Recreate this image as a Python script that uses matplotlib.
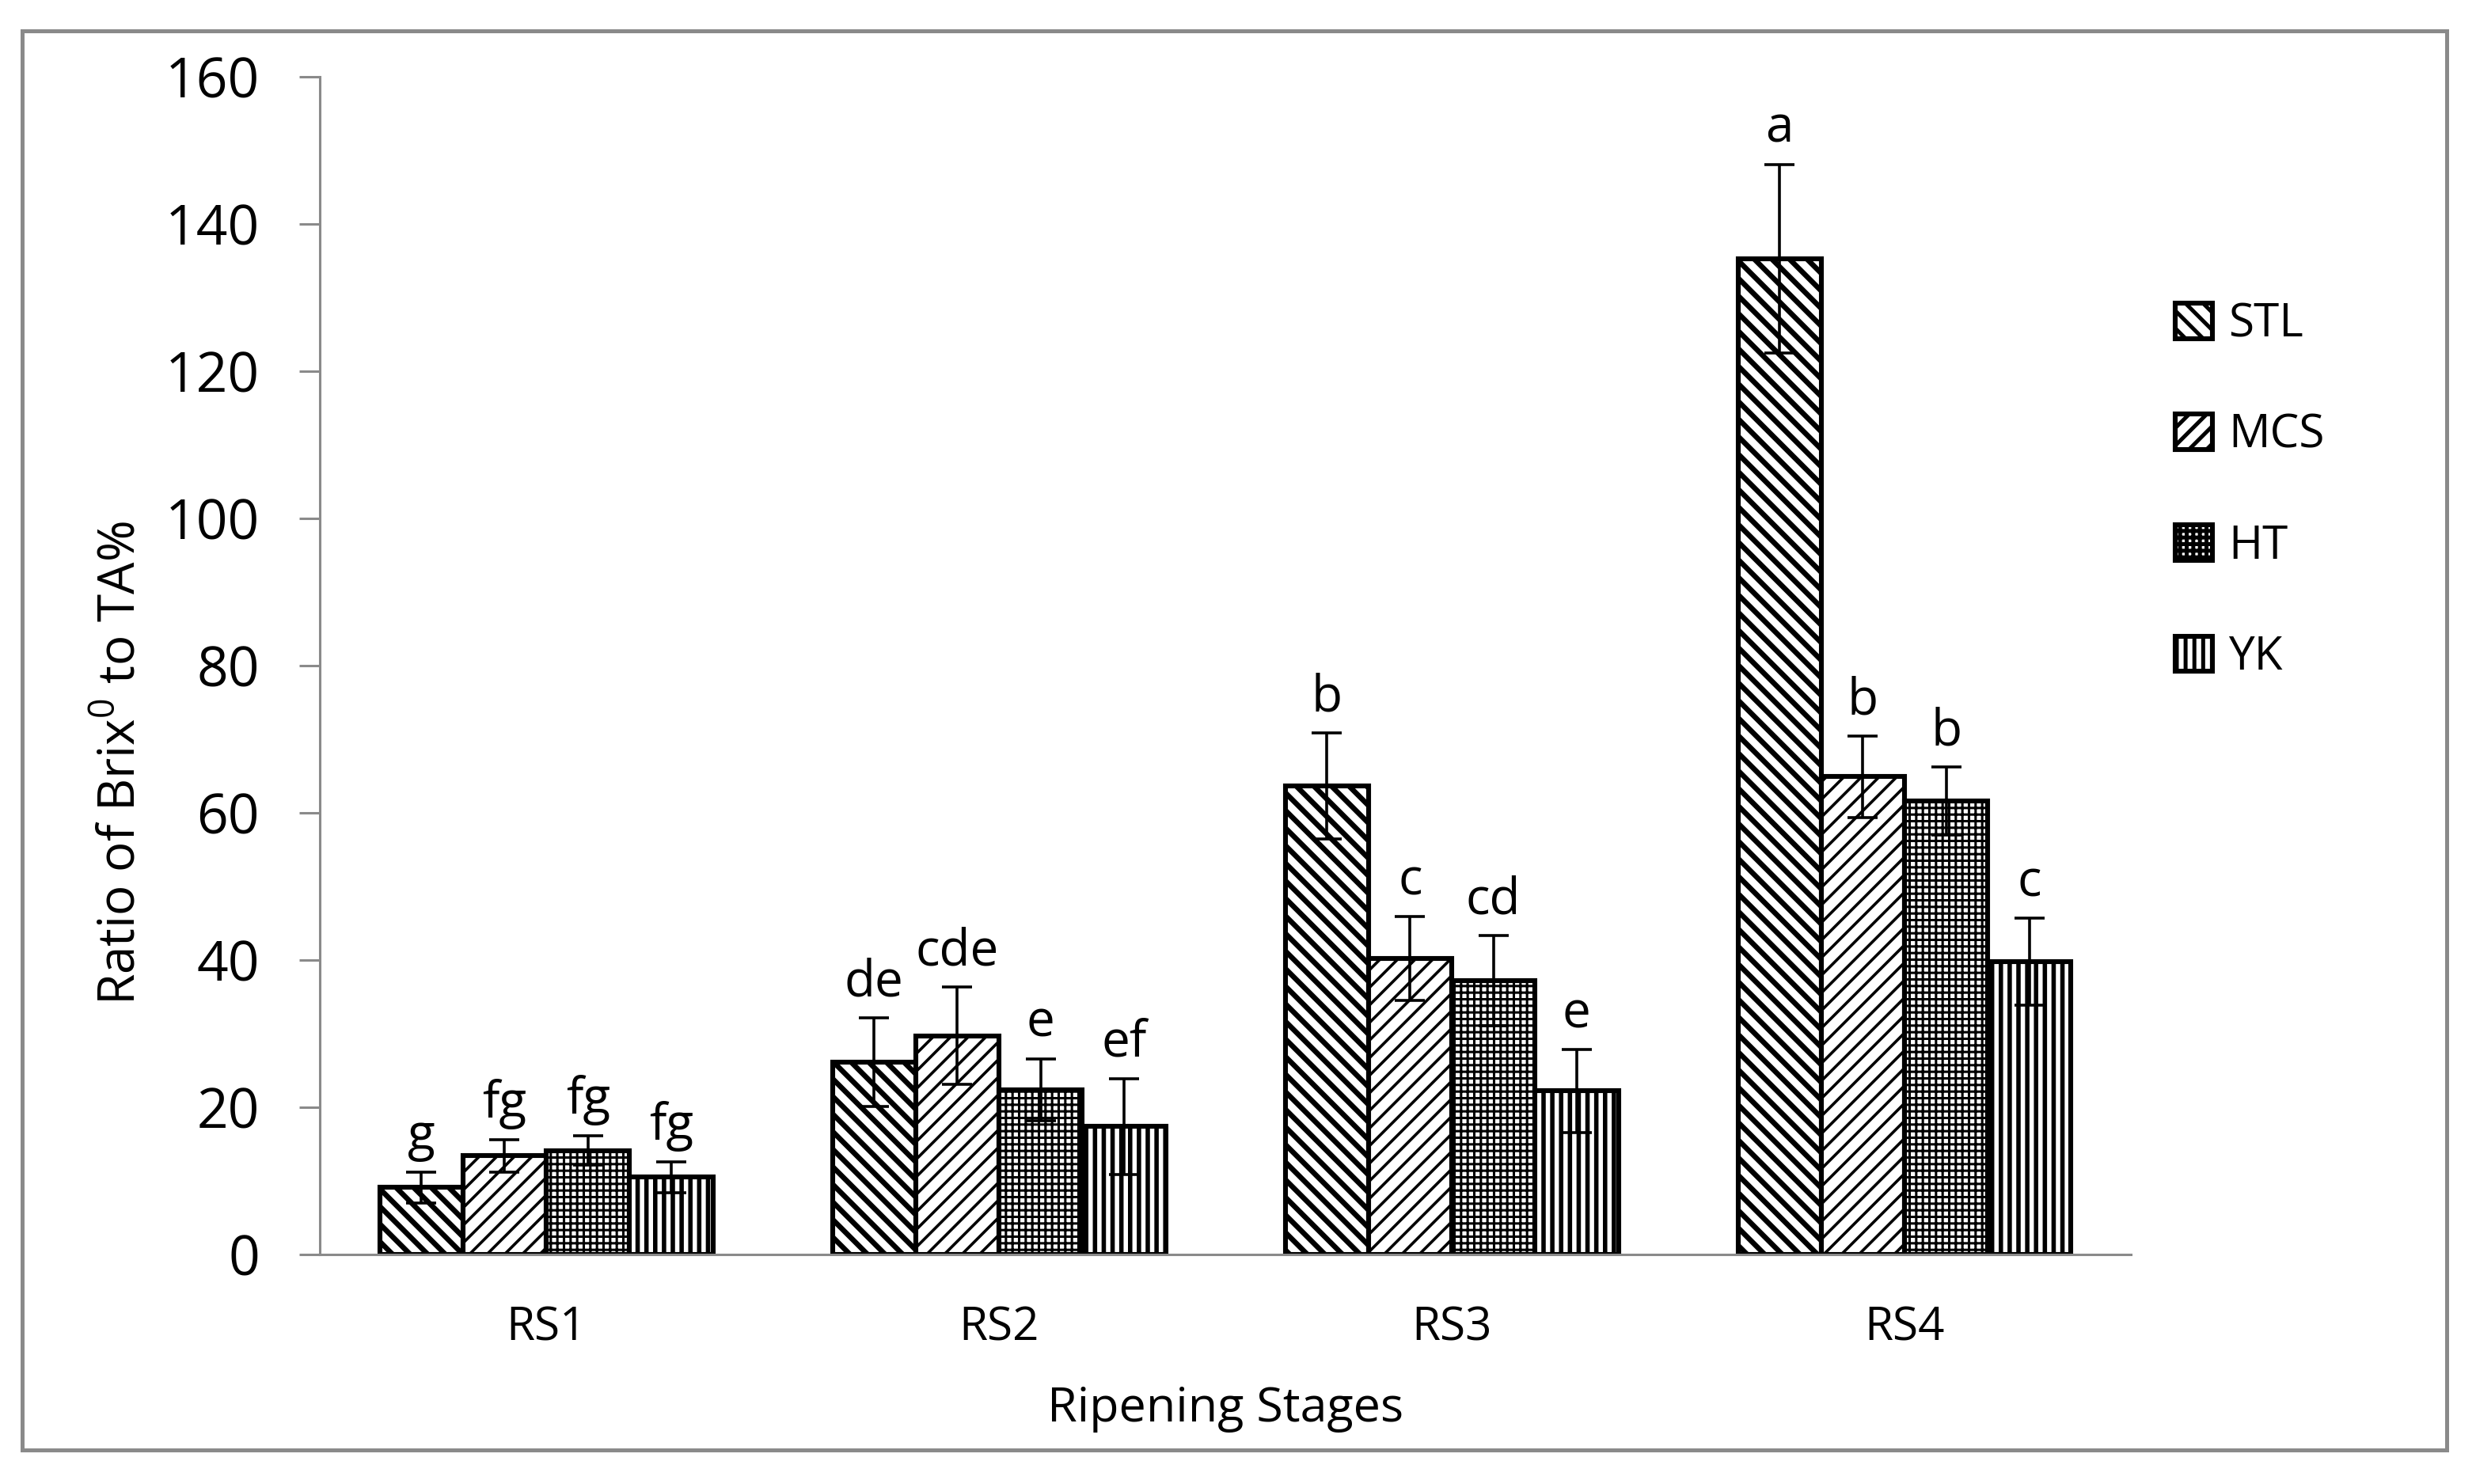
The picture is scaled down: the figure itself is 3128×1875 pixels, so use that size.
import numpy as np
import matplotlib
matplotlib.use("Agg")
import matplotlib.pyplot as plt
from matplotlib.patches import Rectangle

plt.rcParams['font.family'] = ['Open Sans', 'DejaVu Sans']
plt.rcParams['mathtext.fontset'] = 'custom'
plt.rcParams['mathtext.rm'] = 'Open Sans'
plt.rcParams['hatch.linewidth'] = 1.8

# datos
etapas = ['RS1', 'RS2', 'RS3', 'RS4']
series = ['STL', 'MCS', 'HT', 'YK']
stl = [9.1, 26.1, 63.6, 135.3]
mcs = [13.4, 29.7, 40.2, 64.9]
ht = [14.1, 22.4, 37.2, 61.6]
yk = [10.5, 17.4, 22.2, 39.8]
stl_err = [2.1, 6.0, 7.2, 12.8]
mcs_err = [2.2, 6.6, 5.7, 5.5]
ht_err = [2.0, 4.2, 6.1, 4.6]
yk_err = [2.1, 6.5, 5.6, 5.9]
stl_let = ['g', 'de', 'b', 'a']
mcs_let = ['fg', 'cde', 'c', 'b']
ht_let = ['fg', 'e', 'cd', 'b']
yk_let = ['fg', 'ef', 'e', 'c']

valores = [stl, mcs, ht, yk]
errores = [stl_err, mcs_err, ht_err, yk_err]
letras = [stl_let, mcs_let, ht_let, yk_let]
tramas = ['\\\\\\', '///', '++++', '|||']
grosor = [2.4, 1.3, 1.1, 2.0]

gris = '#8a8a8a'

fig = plt.figure(figsize=(15.64, 9.375), dpi=200)
ax = fig.add_axes([0.1292, 0.1547, 0.8606 - 0.1292, 0.9483 - 0.1547])

x = np.arange(len(etapas))
ancho = 0.184
for j in range(4):
    pos = x + (j - 1.5) * ancho
    with plt.rc_context({'hatch.linewidth': grosor[j]}):
        barras = ax.bar(pos, valores[j], ancho, color='white', edgecolor='black',
                        linewidth=2.2, hatch=tramas[j], label=series[j], zorder=2)
    for b in barras:
        if hasattr(b, 'set_hatch_linewidth'):
            b.set_hatch_linewidth(grosor[j])
    ax.errorbar(pos, valores[j], yerr=errores[j], fmt='none', ecolor='black',
                elinewidth=1.3, capsize=7, capthick=1.3, zorder=3)
    for k in range(len(etapas)):
        ax.annotate(letras[j][k], xy=(pos[k], valores[j][k] + errores[j][k]),
                    xytext=(0, 10), textcoords='offset points',
                    ha='center', va='baseline', fontsize=23)

ax.set_xlim(-0.5, 3.5)
ax.set_ylim(0, 160)
ax.set_yticks(np.arange(0, 161, 20))
ax.set_xticks(x)
ax.set_xticklabels(etapas)

for lado in ['top', 'right']:
    ax.spines[lado].set_visible(False)
for lado in ['left', 'bottom']:
    ax.spines[lado].set_color(gris)
    ax.spines[lado].set_linewidth(1.1)
    ax.spines[lado].set_zorder(4)

ax.tick_params(axis='y', direction='out', length=9.4, width=1.1, color=gris,
               labelsize=25, pad=18)
ax.tick_params(axis='x', length=0, labelsize=21, pad=23)

ax.set_ylabel('Ratio of Brix$^{\\mathrm{0}}$ to TA%', fontsize=23)
ax.yaxis.set_label_coords(-0.110, 0.417)
ax.yaxis.label.set_va('center')
ax.set_xlabel('Ripening Stages', fontsize=22)
ax.xaxis.set_label_coords(0.5, -0.131)
ax.xaxis.label.set_va('center')

fig.legend(loc='center left', bbox_to_anchor=(0.8785, 0.669), frameon=False,
           fontsize=21, handlelength=0.8, handleheight=0.8, handletextpad=0.35,
           labelspacing=1.4, borderpad=0, borderaxespad=0)

# marco exterior
fig.patches.append(Rectangle((28 / 3128, 1 - 1832 / 1875), (3091 - 28) / 3128,
                             (1832 - 39) / 1875, transform=fig.transFigure,
                             fill=False, edgecolor=gris, linewidth=1.8))

plt.savefig('out.png', dpi=200)
